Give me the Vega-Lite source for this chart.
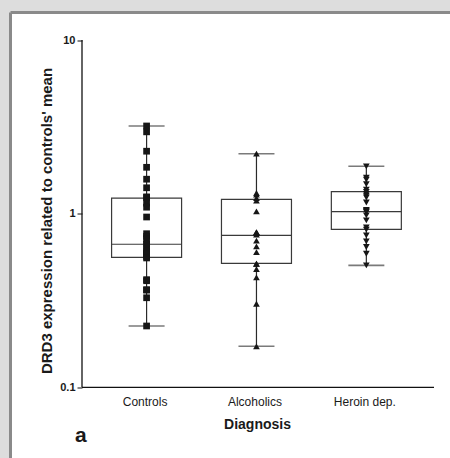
{
  "$schema": "https://vega.github.io/schema/vega-lite/v6.json",
  "width": 439.5,
  "height": 445.5,
  "autosize": {"type": "none"},
  "padding": {"left": 10.5, "top": 12.5, "right": 0, "bottom": 0},
  "background": "#dddddd",
  "title": {"text": "a", "orient": "bottom", "frame": "group", "anchor": "start", "baseline": "alphabetic", "offset": 0, "dx": 64.5, "dy": -17.5, "fontSize": 21, "fontWeight": "bold", "font": "Liberation Sans", "color": "#1a1a1a"},
  "datasets": {
    "points": [
      {"group": "Controls", "value": 3.2}, {"group": "Controls", "value": 2.96}, {"group": "Controls", "value": 2.29}, {"group": "Controls", "value": 1.85}, {"group": "Controls", "value": 1.58}, {"group": "Controls", "value": 1.41}, {"group": "Controls", "value": 1.24}, {"group": "Controls", "value": 1.25}, {"group": "Controls", "value": 1.15}, {"group": "Controls", "value": 1.09}, {"group": "Controls", "value": 0.957}, {"group": "Controls", "value": 0.767}, {"group": "Controls", "value": 0.74}, {"group": "Controls", "value": 0.718}, {"group": "Controls", "value": 0.663}, {"group": "Controls", "value": 0.669}, {"group": "Controls", "value": 0.593}, {"group": "Controls", "value": 0.61}, {"group": "Controls", "value": 0.61}, {"group": "Controls", "value": 0.583}, {"group": "Controls", "value": 0.567}, {"group": "Controls", "value": 0.586}, {"group": "Controls", "value": 0.556}, {"group": "Controls", "value": 0.417}, {"group": "Controls", "value": 0.411}, {"group": "Controls", "value": 0.363}, {"group": "Controls", "value": 0.365}, {"group": "Controls", "value": 0.328}, {"group": "Controls", "value": 0.2256},
      {"group": "Alcoholics", "value": 2.216}, {"group": "Alcoholics", "value": 1.287}, {"group": "Alcoholics", "value": 1.316}, {"group": "Alcoholics", "value": 1.23}, {"group": "Alcoholics", "value": 1.19}, {"group": "Alcoholics", "value": 1.03}, {"group": "Alcoholics", "value": 0.78}, {"group": "Alcoholics", "value": 0.757}, {"group": "Alcoholics", "value": 0.774}, {"group": "Alcoholics", "value": 0.784}, {"group": "Alcoholics", "value": 0.699}, {"group": "Alcoholics", "value": 0.648}, {"group": "Alcoholics", "value": 0.601}, {"group": "Alcoholics", "value": 0.515}, {"group": "Alcoholics", "value": 0.515}, {"group": "Alcoholics", "value": 0.48}, {"group": "Alcoholics", "value": 0.43}, {"group": "Alcoholics", "value": 0.303}, {"group": "Alcoholics", "value": 0.1723},
      {"group": "Heroin dep.", "value": 1.875}, {"group": "Heroin dep.", "value": 1.57}, {"group": "Heroin dep.", "value": 1.61}, {"group": "Heroin dep.", "value": 1.48}, {"group": "Heroin dep.", "value": 1.375}, {"group": "Heroin dep.", "value": 1.3}, {"group": "Heroin dep.", "value": 1.334}, {"group": "Heroin dep.", "value": 1.24}, {"group": "Heroin dep.", "value": 1.27}, {"group": "Heroin dep.", "value": 1.16}, {"group": "Heroin dep.", "value": 1.04}, {"group": "Heroin dep.", "value": 1.02}, {"group": "Heroin dep.", "value": 1.03}, {"group": "Heroin dep.", "value": 1.05}, {"group": "Heroin dep.", "value": 0.978}, {"group": "Heroin dep.", "value": 0.915}, {"group": "Heroin dep.", "value": 0.809}, {"group": "Heroin dep.", "value": 0.834}, {"group": "Heroin dep.", "value": 0.75}, {"group": "Heroin dep.", "value": 0.692}, {"group": "Heroin dep.", "value": 0.643}, {"group": "Heroin dep.", "value": 0.588}, {"group": "Heroin dep.", "value": 0.504}
    ],
    "boxes": [
      {"group": "Controls", "min": 0.2256, "q1": 0.561, "median": 0.667, "q3": 1.23, "max": 3.2},
      {"group": "Alcoholics", "min": 0.1723, "q1": 0.518, "median": 0.751, "q3": 1.21, "max": 2.216},
      {"group": "Heroin dep.", "min": 0.504, "q1": 0.813, "median": 1.027, "q3": 1.339, "max": 1.875}
    ]
  },
  "layer": [
    {
      "layer": [
        {
          "data": {"name": "boxes"},
          "mark": {"type": "rule", "color": "#2a2a2a", "strokeWidth": 1.2},
          "encoding": {
            "x": {"field": "group", "type": "nominal", "title": "Diagnosis", "scale": {"type": "point", "domain": ["Controls", "Alcoholics", "Heroin dep."], "padding": 1.0829, "align": 0.6193}},
            "y": {"field": "min", "type": "quantitative", "title": "DRD3 expression related to controls' mean", "scale": {"type": "log", "domain": [0.039185, 14.408], "nice": false}},
            "y2": {"field": "max"}
          }
        },
        {
          "data": {"name": "boxes"},
          "mark": {"type": "tick", "color": "#7a7a7a", "size": 36, "thickness": 1.6, "opacity": 1},
          "encoding": {
            "x": {"field": "group", "type": "nominal", "title": "Diagnosis", "scale": {"type": "point", "domain": ["Controls", "Alcoholics", "Heroin dep."], "padding": 1.0829, "align": 0.6193}},
            "y": {"field": "min", "type": "quantitative", "title": "DRD3 expression related to controls' mean", "scale": {"type": "log", "domain": [0.039185, 14.408], "nice": false}}
          }
        },
        {
          "data": {"name": "boxes"},
          "mark": {"type": "tick", "color": "#7a7a7a", "size": 36, "thickness": 1.6, "opacity": 1},
          "encoding": {
            "x": {"field": "group", "type": "nominal", "title": "Diagnosis", "scale": {"type": "point", "domain": ["Controls", "Alcoholics", "Heroin dep."], "padding": 1.0829, "align": 0.6193}},
            "y": {"field": "max", "type": "quantitative", "title": "DRD3 expression related to controls' mean", "scale": {"type": "log", "domain": [0.039185, 14.408], "nice": false}}
          }
        },
        {
          "data": {"name": "boxes"},
          "mark": {"type": "bar", "fill": "white", "stroke": "#3a3a3a", "strokeWidth": 1.2, "size": 70},
          "encoding": {
            "x": {"field": "group", "type": "nominal", "title": "Diagnosis", "scale": {"type": "point", "domain": ["Controls", "Alcoholics", "Heroin dep."], "padding": 1.0829, "align": 0.6193}},
            "y": {"field": "q1", "type": "quantitative", "title": "DRD3 expression related to controls' mean", "scale": {"type": "log", "domain": [0.039185, 14.408], "nice": false}},
            "y2": {"field": "q3"}
          }
        },
        {
          "data": {"name": "boxes"},
          "mark": {"type": "tick", "color": "#3a3a3a", "size": 70, "thickness": 1.2, "opacity": 1},
          "encoding": {
            "x": {"field": "group", "type": "nominal", "title": "Diagnosis", "scale": {"type": "point", "domain": ["Controls", "Alcoholics", "Heroin dep."], "padding": 1.0829, "align": 0.6193}},
            "y": {"field": "median", "type": "quantitative", "title": "DRD3 expression related to controls' mean", "scale": {"type": "log", "domain": [0.039185, 14.408], "nice": false}}
          }
        },
        {
          "data": {"name": "points"},
          "mark": {"type": "point", "filled": true, "size": 45, "color": "#161616", "opacity": 1},
          "encoding": {
            "x": {"field": "group", "type": "nominal", "title": "Diagnosis", "scale": {"type": "point", "domain": ["Controls", "Alcoholics", "Heroin dep."], "padding": 1.0829, "align": 0.6193}},
            "y": {"field": "value", "type": "quantitative", "title": "DRD3 expression related to controls' mean", "scale": {"type": "log", "domain": [0.039185, 14.408], "nice": false}, "axis": {"values": [0.1, 1, 10], "format": "~g", "offset": -71.5, "titleY": 208}},
            "shape": {"field": "group", "type": "nominal", "scale": {"domain": ["Controls", "Alcoholics", "Heroin dep."], "range": ["square", "triangle-up", "triangle-down"]}, "legend": null}
          }
        }
      ]
    },
    {
      "data": {"values": [{}]},
      "layer": [
        {
          "mark": {"type": "rule", "color": "#111111", "strokeWidth": 1.3},
          "encoding": {
            "x": {"datum": 0.3365, "type": "quantitative", "scale": {"domain": [-0.3412, 3.8246], "nice": false, "zero": false}, "axis": null},
            "y": {"datum": 0.1, "type": "quantitative", "title": "DRD3 expression related to controls' mean", "scale": {"type": "log", "domain": [0.039185, 14.408], "nice": false}},
            "y2": {"datum": 10}
          }
        },
        {
          "mark": {"type": "rule", "color": "#111111", "strokeWidth": 1.3},
          "encoding": {
            "x": {"datum": 0.3365, "type": "quantitative", "scale": {"domain": [-0.3412, 3.8246], "nice": false, "zero": false}, "axis": null},
            "x2": {"datum": 3.673},
            "y": {"datum": 0.1, "type": "quantitative", "title": "DRD3 expression related to controls' mean", "scale": {"type": "log", "domain": [0.039185, 14.408], "nice": false}}
          }
        },
        {
          "mark": {"type": "rule", "color": "#8a8a8a", "strokeWidth": 3},
          "encoding": {
            "x": {"datum": -0.3412, "type": "quantitative", "scale": {"domain": [-0.3412, 3.8246], "nice": false, "zero": false}, "axis": null},
            "y": {"datum": 0.039185, "type": "quantitative", "title": "DRD3 expression related to controls' mean", "scale": {"type": "log", "domain": [0.039185, 14.408], "nice": false}},
            "y2": {"datum": 14.408}
          }
        },
        {
          "mark": {"type": "rule", "color": "#8a8a8a", "strokeWidth": 3},
          "encoding": {
            "x": {"datum": -0.3412, "type": "quantitative", "scale": {"domain": [-0.3412, 3.8246], "nice": false, "zero": false}, "axis": null},
            "x2": {"datum": 3.8246},
            "y": {"datum": 14.408, "type": "quantitative", "title": "DRD3 expression related to controls' mean", "scale": {"type": "log", "domain": [0.039185, 14.408], "nice": false}}
          }
        }
      ]
    }
  ],
  "resolve": {"scale": {"x": "independent"}, "axis": {"x": "independent"}},
  "config": {
    "view": {"fill": "white", "stroke": null},
    "axisY": {"domain": false, "grid": false, "tickColor": "#111111", "tickSize": 5, "tickWidth": 1, "labelFont": "Liberation Sans", "labelFontSize": 11, "labelFontWeight": "bold", "labelColor": "#1a1a1a", "labelPadding": 2, "titleFont": "Liberation Sans", "titleFontSize": 15, "titleFontWeight": "bold", "titleColor": "#1a1a1a", "titlePadding": 5},
    "axisX": {"domain": false, "grid": false, "ticks": false, "offset": -70.7, "labelFont": "Liberation Sans", "labelFontSize": 12, "labelColor": "#1a1a1a", "labelPadding": 9, "labelAngle": 0, "labelOffset": -2, "titleFont": "Liberation Sans", "titleFontSize": 14, "titleFontWeight": "bold", "titleColor": "#1a1a1a", "titlePadding": 10, "titleX": 246.5}
  }
}
